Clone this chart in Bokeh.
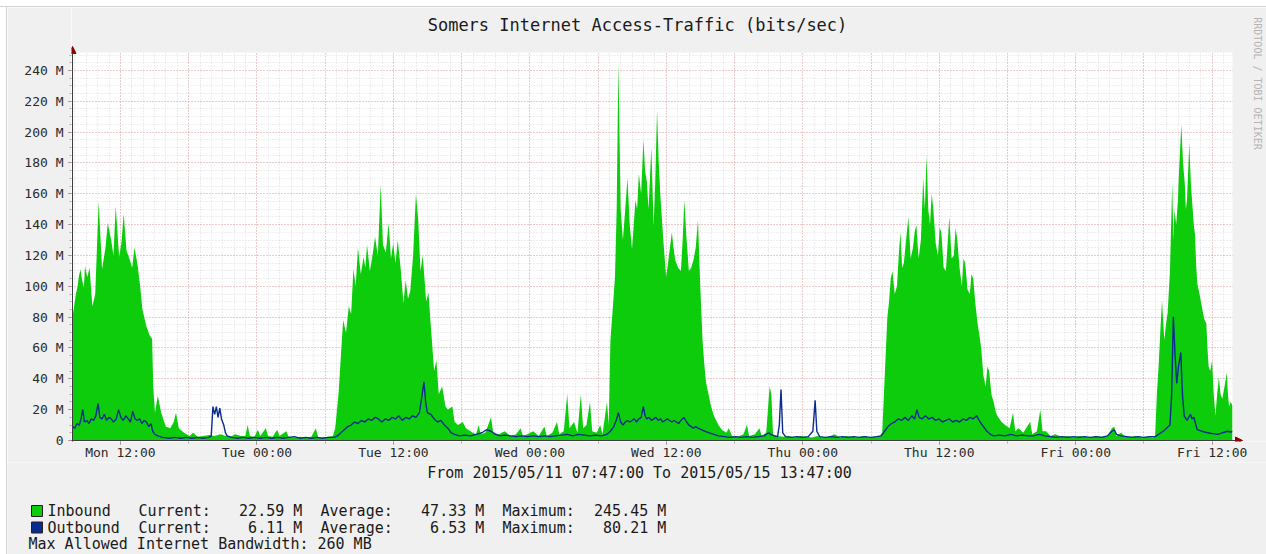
import pandas as pd
from math import pi
from bokeh.plotting import figure
from bokeh.layouts import column, row
from bokeh.models import (ColumnDataSource, Range1d, FixedTicker, DatetimeTickFormatter,
                          Label, BoxAnnotation, Arrow, NormalHead, Spacer)
from bokeh.core.properties import value
from bokeh.embed import file_html
from bokeh.resources import INLINE

# ---------------- data ----------------
TITLE = "Somers Internet Access-Traffic (bits/sec)"
START = "2015-05-11 07:47:00"
END = "2015-05-15 13:47:00"

# hours after START, inbound traffic in Mbit/s
in_hours = [
    0.0, 0.3, 0.45, 0.55, 0.7, 0.85, 1.0, 1.1, 1.3, 1.5, 1.75, 2.0,
    2.3, 2.6, 2.9, 3.1, 3.4, 3.6, 3.8, 4.1, 4.3, 4.5, 4.75,
    5.0, 5.25, 5.45, 5.7, 5.95, 6.15, 6.5, 6.8, 7.0, 7.1,
    7.25, 7.5, 7.8, 8.2, 8.6, 8.9, 9.1, 9.35, 9.8, 10.3,
    10.6, 11.0, 11.5, 12.0, 12.5, 13.0, 13.5, 13.9, 14.3, 14.8,
    15.2, 15.4, 15.6, 16.0, 16.3, 16.5, 17.0, 17.2, 17.6, 18.0,
    18.2, 18.8, 19.0, 19.5, 20.0, 20.5, 21.0, 21.4, 21.6, 22.0,
    22.5, 22.9,
    23.1, 23.4, 23.6, 23.8, 24.05, 24.3, 24.5, 24.7, 24.9, 25.1,
    25.35, 25.6, 25.75, 25.9, 26.15, 26.4, 26.6, 26.85, 27.1, 27.3,
    27.55, 27.8, 28.0, 28.2, 28.4, 28.6, 28.85, 29.1, 29.3, 29.5,
    29.7, 29.95, 30.2, 30.4, 30.6, 30.8, 31.1, 31.3, 31.5, 31.8,
    32.0, 32.2, 32.5, 32.8, 33.0, 33.4, 33.6, 33.9, 34.3, 34.6,
    35.2,
    35.5, 35.7, 35.9, 36.3, 36.8, 37.0, 37.5, 38.0, 38.5, 39.0,
    39.4, 39.6, 40.0, 40.5, 41.0, 41.5, 41.7, 42.2, 42.6, 42.8,
    43.2, 43.5, 43.7, 44.1, 44.4, 44.7, 44.9, 45.2, 45.5, 45.7,
    46.1, 46.4, 46.6, 47.0, 47.15,
    47.3, 47.5, 47.7, 47.85, 48.0, 48.2, 48.4, 48.6, 48.8, 49.0,
    49.2, 49.35, 49.5, 49.65, 49.8, 50.0, 50.2, 50.35, 50.5, 50.65,
    50.9, 51.1, 51.25, 51.4, 51.55, 51.7, 51.95, 52.2, 52.45, 52.7,
    52.85, 53.0, 53.25, 53.5, 53.65, 53.8, 54.0, 54.2, 54.4, 54.6,
    54.8, 55.0, 55.2, 55.4, 55.55, 55.7, 55.9, 56.15, 56.4, 56.8,
    57.1, 57.5, 57.7, 58.0,
    58.5, 59.0, 59.3, 59.5, 60.0, 60.4, 60.6, 61.0, 61.3, 61.45,
    61.6, 62.0, 62.5, 63.0, 63.5, 64.0, 64.5, 65.0, 65.5, 66.0,
    66.5, 67.0, 67.5, 68.0, 68.5, 69.0, 69.5, 70.0, 70.5, 71.0,
    71.2, 71.35, 71.5, 71.65, 71.8, 71.95, 72.1, 72.3, 72.5, 72.65,
    72.8, 72.95, 73.1, 73.3, 73.5, 73.7, 73.9, 74.05, 74.2, 74.4,
    74.6, 74.8, 74.95, 75.1, 75.25, 75.4, 75.55, 75.7, 75.9, 76.1,
    76.25, 76.4, 76.6, 76.8, 76.95, 77.1, 77.3, 77.5, 77.65, 77.8,
    78.0, 78.2, 78.35, 78.5, 78.7, 78.9, 79.05, 79.2, 79.4, 79.6,
    79.75, 79.9, 80.1, 80.3, 80.45, 80.6, 80.8, 81.0, 81.2, 81.4,
    81.7, 82.0, 82.4, 82.7, 82.9, 83.2, 83.6, 84.2, 84.4, 84.8,
    85.1, 85.3, 85.6, 86.0,
    86.4, 87.0, 87.5, 88.0, 88.5, 89.0, 89.5, 90.0, 90.5, 91.0,
    91.4, 91.6, 91.8, 92.2, 92.5, 93.0, 93.5, 94.0, 94.5, 95.0,
    95.2, 95.35, 95.5, 95.65, 95.8, 96.0, 96.15, 96.3, 96.5, 96.7,
    96.8, 96.9, 97.05, 97.2, 97.3, 97.5, 97.65, 97.8, 97.9, 98.0,
    98.2, 98.35, 98.5, 98.6, 98.7, 98.8, 98.9, 99.1, 99.4, 99.55,
    99.7, 99.8, 99.9, 100.05, 100.2, 100.35, 100.5, 100.65, 100.8, 100.95,
    101.1, 101.3, 101.5, 101.6, 101.7, 101.85, 102.0,
]
in_mbits = [
    80, 95, 100, 106, 111, 104, 99, 113, 106, 112, 87, 95,
    155, 111, 125, 141, 130, 120, 152, 119, 128, 147, 123,
    118, 112, 125, 115, 100, 85, 74, 68, 66, 35,
    18, 29, 18, 9, 8, 12, 18, 8, 5, 3,
    5, 2.5, 3, 3.5, 3, 4, 3, 2.5, 4, 3,
    3, 10, 3, 2.5, 7, 3, 8, 3, 2.5, 7,
    3, 6, 2.5, 2, 2.5, 2, 2.5, 8, 2, 2,
    2.5, 3,
    8, 31, 55, 78, 70, 87, 82, 111, 100, 125,
    108, 119, 112, 127, 110, 121, 132, 120, 166, 127,
    122, 141, 118, 128, 115, 130, 112, 89, 104, 92,
    97, 120, 160, 143, 110, 120, 90, 96, 75, 45,
    52, 30, 35, 22, 20, 22, 12, 10, 12, 8,
    5,
    4, 10, 4, 5, 15, 5, 4, 6, 3, 4,
    8, 3, 4, 6, 3, 9, 3, 5, 12, 4,
    6, 30, 8, 12, 5, 30, 8, 10, 25, 6,
    5, 10, 4, 25, 10,
    65, 85, 106, 150, 245.45, 150, 130, 150, 170, 140,
    124, 140, 156, 150, 173, 160, 195, 175, 168, 150,
    190, 139, 170, 214, 180, 158, 130, 106, 120, 135,
    125, 117, 112, 110, 130, 156, 130, 110, 112, 117,
    125, 143, 100, 65, 50, 38, 31, 22, 16, 10,
    7, 5, 8, 3,
    2.5, 4, 10, 3, 4, 8, 3, 5, 35, 30,
    4, 3, 2.5, 3, 2, 3, 2.5, 2, 3, 2,
    2.5, 4, 2, 3, 2.5, 2, 3, 2, 2.5, 3,
    5, 30, 55, 80, 90, 105, 110, 95, 100, 120,
    135, 112, 115, 130, 145, 118, 125, 135, 140, 118,
    130, 170, 150, 185, 150, 140, 160, 150, 128, 120,
    138, 135, 112, 110, 128, 145, 118, 120, 138, 130,
    112, 100, 118, 115, 98, 95, 108, 105, 88, 75,
    68, 60, 42, 35, 48, 45, 30, 25, 18, 15,
    12, 10, 8, 18, 6, 8, 5, 12, 4, 6,
    20, 6, 6, 3,
    4, 2.5, 3, 2, 3, 2.5, 2, 3, 2.5, 3,
    8, 9, 3, 5, 3, 2.5, 3, 2, 2.5, 2,
    3, 30, 48, 70, 91, 65, 75, 83, 110, 167,
    130, 150, 140, 156, 175, 205, 180, 167, 150, 156,
    193, 165, 150, 140, 134, 115, 102, 95, 83, 78,
    76, 60, 48, 45, 52, 30, 16, 30, 41, 30,
    27, 35, 44, 30, 22, 25, 22.59,
]

# hours after START, outbound traffic in Mbit/s
out_hours = [
    0.0, 0.2, 0.4, 0.6, 0.75, 0.9, 1.05, 1.25, 1.45, 1.65,
    1.85, 2.05, 2.25, 2.4, 2.6, 2.8, 3.0, 3.2, 3.4, 3.6,
    3.85, 4.05, 4.25, 4.45, 4.7, 4.9, 5.1, 5.3, 5.5, 5.7,
    5.9, 6.1, 6.3, 6.5, 6.7, 6.9, 7.05, 7.25, 7.5, 7.9,
    8.5, 9.0, 9.5, 10.0, 10.5, 11.0, 11.5, 12.0,
    12.2, 12.35, 12.5, 12.65, 12.8, 12.95, 13.1, 13.3, 13.45, 13.6,
    14.0, 14.5, 15.0, 15.5, 16.0, 16.5, 17.0, 17.5, 18.0, 18.5,
    19.0, 19.5, 20.0, 20.5, 21.0, 21.5, 22.0, 22.5, 23.0,
    23.3, 23.6, 23.9, 24.2, 24.5, 24.8, 25.1, 25.4, 25.7, 26.0,
    26.3, 26.6, 26.9, 27.2, 27.5, 27.8, 28.1, 28.4, 28.7, 29.0,
    29.3, 29.6, 29.9, 30.2, 30.5, 30.75, 30.9, 31.05, 31.2, 31.5,
    31.8, 32.1, 32.4, 32.7, 33.0, 33.3, 33.6, 34.0, 34.5, 35.0,
    35.5, 36.0, 36.4, 36.8, 37.2, 37.6, 38.0, 38.5, 39.0, 39.5,
    40.0, 40.5, 41.0, 41.5, 42.0, 42.5, 43.0, 43.5, 44.0, 44.5,
    45.0, 45.5, 46.0, 46.5, 47.0,
    47.3, 47.6, 47.85, 48.0, 48.2, 48.4, 48.6, 48.8, 49.0, 49.2,
    49.4, 49.6, 49.8, 50.0, 50.2, 50.35, 50.5, 50.7, 50.9, 51.1,
    51.3, 51.5, 51.7, 51.9, 52.1, 52.3, 52.5, 52.7, 52.9, 53.1,
    53.3, 53.5, 53.75, 54.0, 54.2, 54.4, 54.6, 54.8, 55.0, 55.3,
    55.6, 56.0, 56.4, 56.8, 57.3, 57.8, 58.3, 58.8, 59.3, 59.8,
    60.3, 60.8, 61.2, 61.4, 61.7, 62.0, 62.15, 62.3, 62.45, 62.7,
    63.2, 63.7, 64.2, 64.7, 65.1, 65.3, 65.45, 65.7, 66.2, 66.7,
    67.2, 67.7, 68.2, 68.7, 69.2, 69.7, 70.2, 70.7, 71.1,
    71.4, 71.7, 72.0, 72.3, 72.6, 72.9, 73.2, 73.5, 73.8, 74.05,
    74.25, 74.45, 74.7, 75.0, 75.3, 75.6, 75.9, 76.2, 76.5, 76.8,
    77.1, 77.4, 77.7, 78.0, 78.3, 78.6, 78.9, 79.2, 79.5, 79.8,
    80.1, 80.4, 80.7, 81.0, 81.5, 82.0, 82.5, 83.0, 83.5, 84.0,
    84.5, 85.0, 85.5, 86.0, 86.5, 87.0, 87.5, 88.0, 88.5, 89.0,
    89.5, 90.0, 90.5, 91.0, 91.4, 91.6, 91.8, 92.2, 92.7, 93.2,
    93.7, 94.2, 94.7, 95.2,
    95.5, 95.9, 96.2, 96.5, 96.65, 96.8, 96.95, 97.1, 97.25, 97.45,
    97.6, 97.75, 98.0, 98.3, 98.45, 98.6, 98.9, 99.3, 99.8, 100.2,
    100.7, 101.1, 101.6, 101.85, 102.0,
]
out_mbits = [
    9, 8, 11, 10, 14, 20, 12, 13, 11, 14,
    13, 16, 24, 15, 14, 17, 13, 15, 14, 12,
    14, 20, 15, 13, 16, 14, 12, 19, 14, 13,
    14, 11, 13, 12, 9, 11, 6, 4, 3, 2,
    1.5, 2, 1.5, 2, 1.5, 2, 1.5, 2,
    3, 22, 17, 22, 15, 21, 14, 10, 5, 3,
    2, 1.5, 2, 1.5, 2, 1.5, 2, 1.5, 2, 1.5,
    2, 2.5, 1.5, 2, 1.5, 2, 1.5, 2, 2,
    3, 5, 7, 9, 10, 12, 11, 13, 12, 14,
    13, 15, 14, 12, 14, 13, 15, 14, 16, 13,
    15, 14, 16, 15, 18, 30, 38, 25, 18, 17,
    14, 12, 13, 10, 8, 5, 4, 3, 3.5, 3,
    4, 5, 7, 6, 4, 3, 3.5, 3, 2.5, 3,
    2.5, 3, 2.5, 3, 2.5, 3, 3.5, 4, 3, 4,
    3.5, 3, 3.5, 3, 4,
    6, 9, 14, 18, 12, 10, 12, 13, 12, 13,
    14, 12, 14, 15, 22, 16, 14, 15, 13, 14,
    15, 13, 14, 12, 13, 14, 13, 12, 13, 12,
    11, 13, 15, 12, 10, 9, 8, 9, 8, 7,
    6, 5, 4, 3, 2.5, 2, 2.5, 2, 2.5, 2,
    2.5, 3, 5, 4, 3, 2.5, 10, 33, 5, 2.5,
    2, 2.5, 2, 2.5, 6, 26, 6, 2.5, 2, 2.5,
    2, 2.5, 2, 2.5, 2, 2.5, 2, 2.5, 3,
    6, 9, 11, 12, 14, 13, 15, 13, 16, 14,
    20, 15, 14, 16, 14, 15, 13, 14, 12, 13,
    14, 12, 13, 12, 14, 13, 15, 14, 16, 12,
    9, 6, 4, 3, 3.5, 3, 4, 3, 3.5, 3,
    3, 4, 3, 2.5, 2, 2.5, 2, 2.5, 2, 2.5,
    2, 2.5, 2, 3, 6, 7, 4, 3, 2.5, 2,
    2.5, 2, 2.5, 2.5,
    4, 6, 8, 10, 30, 80.21, 55, 37, 48, 57,
    30, 16, 13, 17, 14, 15, 7, 6, 5, 4.5,
    4, 5, 6, 5.5, 6.11,
]

# x tick labels (every 12 hours)
x_tick_times = ["2015-05-11 12:00", "2015-05-12 00:00", "2015-05-12 12:00",
                "2015-05-13 00:00", "2015-05-13 12:00", "2015-05-14 00:00",
                "2015-05-14 12:00", "2015-05-15 00:00", "2015-05-15 12:00"]
y_ticks = [0, 20, 40, 60, 80, 100, 120, 140, 160, 180, 200, 220, 240]
y_tick_labels = ["0"] + [f"{v} M" for v in y_ticks[1:]]
Y_TOP = 251.7   # top of the graph area, Mbit/s

# legend statistics
series_names = ["Inbound", "Outbound"]
series_colors = ["#0ccc0c", "#0b2c8f"]
stat_current = [22.59, 6.11]
stat_average = [47.33, 6.53]
stat_maximum = [245.45, 80.21]
footer_text = "Max Allowed Internet Bandwidth: 260 MB"
range_text = f"From {START.replace('-', '/')} To {END.replace('-', '/')}"

# ---------------- layout constants (page pixels) ----------------
W, H = 1266, 554
E = 7                                   # white page edge (6px) + shade line (1px)
H_MAIN_END = 462                        # page y where the legend strip begins
GL, GR, GT, G0 = 72, 1232, 52, 441     # graph area: left, right, top, zero line
FL, FB = 71, 442                        # frame left / bottom (1px outside the axes)
PXH = (GR - GL) / 102.0                 # px per hour
PXM = (G0 - GT) / Y_TOP                 # px per Mbit/s
MONO = "DejaVu Sans Mono"
BG = "#f0f0f0"

t0 = pd.Timestamp(START)
t1 = pd.Timestamp(END)
epoch = pd.Timestamp("1970-01-01")


def ms(ts):
    return (pd.Timestamp(ts) - epoch) / pd.Timedelta(milliseconds=1)


def px_to_t(px):
    return ms(t0) + (px - GL) / PXH * 3.6e6


def py_to_m(py):
    return (G0 - py) / PXM


def sx(px):
    return px - FL


def sy(py):
    return FB - py


in_src = ColumnDataSource(dict(t=t0 + pd.to_timedelta(in_hours, unit="h"), v=in_mbits))
out_src = ColumnDataSource(dict(t=t0 + pd.to_timedelta(out_hours, unit="h"), v=out_mbits))

p = figure(width=W - E, height=H_MAIN_END - E, x_axis_type="datetime", output_backend="svg",
           toolbar_location=None, title=None,
           x_range=Range1d(px_to_t(FL), px_to_t(W)), y_range=Range1d(py_to_m(FB), py_to_m(E)),
           min_border_left=FL - E, min_border_right=0, min_border_top=0,
           min_border_bottom=H_MAIN_END - FB)
p.background_fill_color = "#ffffff"
p.border_fill_color = BG
p.outline_line_color = None

p.varea(x="t", y1=0, y2="v", source=in_src, fill_color=series_colors[0])
p.line(x="t", y="v", source=out_src, line_color=series_colors[1], line_width=1.4)

# grids
hourly = [ms(t) for t in pd.date_range(t0.ceil("h"), t1, freq="h")]
six_hourly = [ms(t) for t in pd.date_range("2015-05-11 12:00", t1, freq="6h")]
xg = p.xgrid[0]
xg.ticker = FixedTicker(ticks=six_hourly, minor_ticks=hourly)
yg = p.ygrid[0]
yg.ticker = FixedTicker(ticks=y_ticks, minor_ticks=list(range(0, 252, 5)))
for g in (xg, yg):
    g.grid_line_color = "#de5050"
    g.grid_line_alpha = 0.45
    g.grid_line_dash = "1 2"
    g.minor_grid_line_color = "#8f8f8f"
    g.minor_grid_line_alpha = 0.3
    g.minor_grid_line_dash = "1 2"

# axes (lines drawn as arrows below)
xa = p.xaxis[0]
xa.ticker = FixedTicker(ticks=[ms(t) for t in x_tick_times], minor_ticks=six_hourly)
fmt = "%a %H:%M"
xa.formatter = DatetimeTickFormatter(milliseconds=fmt, seconds=fmt, minsec=fmt, minutes=fmt,
                                     hourmin=fmt, hours=fmt, days=fmt, months=fmt, years=fmt)
ya = p.yaxis[0]
ya.ticker = FixedTicker(ticks=y_ticks, minor_ticks=list(range(0, 252, 5)))
ya.major_label_overrides = {v: s for v, s in zip(y_ticks, y_tick_labels)}

for ax in (xa, ya):
    ax.axis_line_color = None
    ax.major_tick_in = 0
    ax.major_tick_out = 3
    ax.minor_tick_in = 0
    ax.minor_tick_out = 2
    ax.major_tick_line_color = "#c05050"
    ax.minor_tick_line_color = "#aaaaaa"
    ax.major_label_text_font = MONO
    ax.major_label_text_font_size = "13px"
    ax.major_label_text_color = "#2a2a2a"
xa.major_label_standoff = 0
ya.major_label_standoff = 5

# background outside the graph area (inside the frame)
p.add_layout(BoxAnnotation(bottom=Y_TOP, fill_color=BG, fill_alpha=1, line_color=None))
p.add_layout(BoxAnnotation(left=ms(t1), fill_color=BG, fill_alpha=1, line_color=None))

# axis lines with arrow heads
head = dict(size=7, fill_color="#8b0000", line_color="#8b0000")
p.add_layout(Arrow(end=NormalHead(**head), x_start=ms(t0), y_start=py_to_m(445),
                   x_end=ms(t0), y_end=py_to_m(46), line_color="#3c3c3c", line_width=1))
p.add_layout(Arrow(end=NormalHead(**head), x_start=px_to_t(67), y_start=0,
                   x_end=px_to_t(1242), y_end=0, line_color="#3c3c3c", line_width=1))

# title and watermark
p.add_layout(Label(x=sx(637), y=sy(25), x_units="screen", y_units="screen", text=TITLE,
                   text_font=MONO, text_font_size="17px", text_color="#1a1a1a",
                   text_align="center", text_baseline="middle"))
p.add_layout(Label(x=sx(1257), y=sy(84), x_units="screen", y_units="screen",
                   text="RRDTOOL / TOBI OETIKER", angle=-pi / 2,
                   text_font=MONO, text_font_size="10px", text_color="#b4b4b4",
                   text_align="center", text_baseline="middle"))

# ---------------- legend strip ----------------
q = figure(width=W - E, height=H - H_MAIN_END, output_backend="svg", toolbar_location=None,
           title=None, x_range=Range1d(E, W), y_range=Range1d(H, H_MAIN_END),
           x_axis_location=None, y_axis_location=None,
           min_border_left=0, min_border_right=0, min_border_top=0, min_border_bottom=0)
q.background_fill_color = BG
q.border_fill_color = BG
q.outline_line_color = None
q.grid.visible = False
p.frame_align = False
q.frame_align = False

q.text(x=[639], y=[472], text=[range_text], text_font=value(MONO), text_font_size="15px",
       text_color="#1a1a1a", text_align="center", text_baseline="middle")

CW = 9.1
X0 = 47
row_mid = [510.5, 527]
q.quad(left=[31, 31], right=[42, 42], top=[m - 5.5 for m in row_mid],
       bottom=[m + 5.5 for m in row_mid], fill_color=series_colors, line_color="#222222")

lx, ly, lt, rx, ry, rt = [], [], [], [], [], []
for i, name in enumerate(series_names):
    for txt, col in [(name, 0), ("Current:", 10), ("Average:", 30), ("Maximum:", 50)]:
        lx.append(X0 + col * CW); ly.append(row_mid[i]); lt.append(txt)
    for val, col in [(stat_current[i], 28), (stat_average[i], 48), (stat_maximum[i], 68)]:
        rx.append(X0 + col * CW); ry.append(row_mid[i]); rt.append(f"{val:.2f} M")
lx.append(28); ly.append(543.5); lt.append(footer_text)

q.text(x=lx, y=ly, text=lt, text_font=value(MONO), text_font_size="15px",
       text_color="#1a1a1a", text_align="left", text_baseline="middle")
q.text(x=rx, y=ry, text=rt, text_font=value(MONO), text_font_size="15px",
       text_color="#1a1a1a", text_align="right", text_baseline="middle")

# white page edge with a thin shade line at top and left
top_edge = column(Spacer(width=W, height=E - 1, styles={"background-color": "#ffffff"}),
                  Spacer(width=W, height=1, styles={"background-color": "#d2d2d2"}),
                  spacing=0)
left_edge = row(Spacer(width=E - 1, height=H - E, styles={"background-color": "#ffffff"}),
                Spacer(width=1, height=H - E, styles={"background-color": "#d2d2d2"}),
                spacing=0)
layout = column(top_edge, row(left_edge, column(p, q, spacing=0), spacing=0), spacing=0)
open("out.html", "w").write(file_html(layout, INLINE))
